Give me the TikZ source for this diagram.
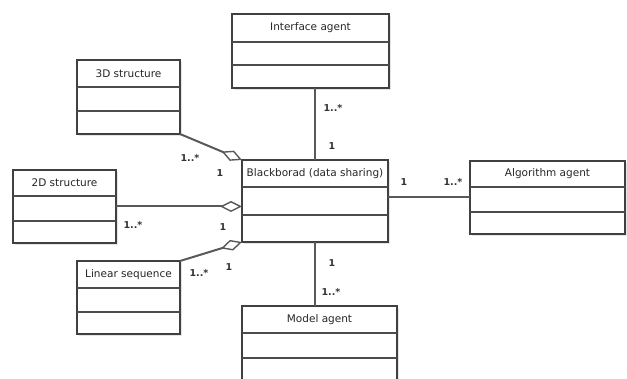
\documentclass[tikz,border=0pt]{standalone}
\usepackage{fontspec}
\setmainfont{DejaVu Sans}
\usetikzlibrary{arrows.meta,shadows}
\newcommand\umlbox[8]{%
  \node[cls, minimum width={#4-#2}, minimum height={#5-#3}] (#1) at (#2,#3) {};
  \draw[divider] (#2,#6) -- (#4,#6) (#2,#7) -- (#4,#7);
  \node[ttl] (#1-t) at ({(#2+#4)/2},{(#3+#6)/2}) {#8};
}
\begin{document}
\begin{tikzpicture}[x=1pt,y=-1pt,
  cls/.style={draw=black!75, line width=1.5pt, fill=white, inner sep=0pt, outer sep=0pt, anchor=north west,
    drop shadow={shadow xshift=2pt, shadow yshift=-2pt, opacity=.2}},
  divider/.style={draw=black!70, line width=1.3pt},
  ttl/.style={font=\fontsize{10.5}{12}\selectfont, text=black!85},
  mult/.style={font=\fontsize{9.5}{11}\selectfont\bfseries, text=black!80},
  conn/.style={draw=black!65, line width=2pt},
  agg/.style={conn, -{Diamond[open, fill=white, length=22pt, width=11pt, line width=1.4pt]}}
]
\useasboundingbox (0,0) rectangle (627,379);
\clip (0,0) rectangle (627,379);
\fill[white] (0,0) rectangle (627,379);

\umlbox{ia}{232}{14}{389}{88}{42}{65}{Interface agent}
\umlbox{s3}{77}{60}{180}{134}{87}{111}{3D structure}
\umlbox{s2}{13}{170}{116}{243}{196}{221}{2D structure}
\umlbox{bb}{242}{160}{388}{242}{187}{215}{Blackborad (data sharing)}
\umlbox{lin}{77}{261}{180}{334}{288}{312}{Linear sequence}
\umlbox{alg}{470}{161}{625}{234}{187}{212}{Algorithm agent}
\umlbox{mod}{242}{306}{397}{392}{333}{358}{Model agent}

\draw[conn] (bb.north |- ia.south) -- (bb.north);
\draw[conn] (bb.south) -- (bb.south |- mod.north);
\draw[conn] (alg.west -| bb.east) -- (alg.west);
\draw[agg] (s2.east) -- (s2.east -| bb.west);
\draw[agg] (s3.south east) -- (bb.north west);
\draw[agg] (lin.north east) -- (bb.south west);

\node[mult] (m1) at (333,108) {1..*};
\node[mult] (m2) at (332,146) {1};
\node[mult] (m3) at (332,263) {1};
\node[mult] (m4) at (331,292) {1..*};
\node[mult] (m5) at (404,182) {1};
\node[mult] (m6) at (453,182) {1..*};
\node[mult] (m7) at (190,158) {1..*};
\node[mult] (m8) at (220,173) {1};
\node[mult] (m9) at (133,225) {1..*};
\node[mult] (m10) at (223,227) {1};
\node[mult] (m11) at (199,273) {1..*};
\node[mult] (m12) at (229,267) {1};
\end{tikzpicture}
\end{document}
